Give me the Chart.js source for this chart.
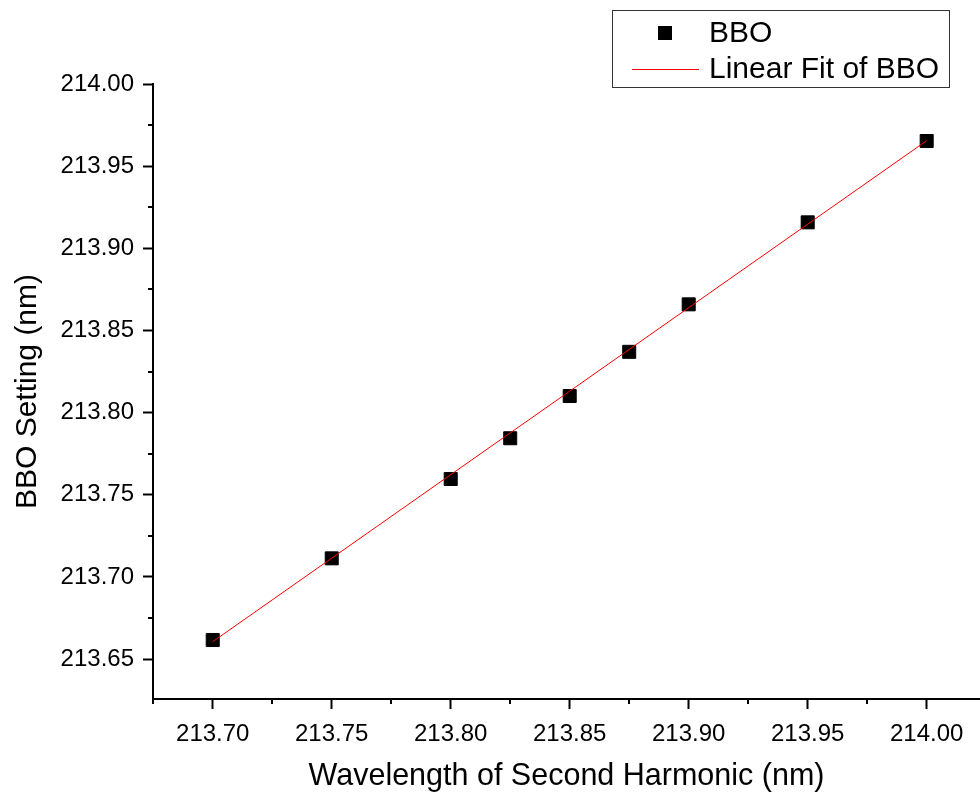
<!DOCTYPE html>
<html>
<head>
<meta charset="utf-8">
<script src="https://cdn.jsdelivr.net/npm/chart.js@4/dist/chart.umd.min.js"></script>
<style>
  html, body { margin: 0; padding: 0; background: #fff; overflow: hidden; }
  #wrap { width: 980px; height: 795px; }
</style>
</head>
<body>
<div id="wrap"><canvas id="c" width="980" height="795"></canvas></div>
<script>
// Measured BBO crystal settings against second-harmonic wavelength
const wavelengths = [213.70, 213.75, 213.80, 213.825, 213.85, 213.875, 213.90, 213.95, 214.00];
const bboSetting  = [213.6616, 213.7113, 213.7596, 213.7844, 213.8101, 213.837, 213.8659, 213.9158, 213.9653];

// End points of the linear fit
const fitWavelengths = [213.70, 214.00];
const fitSetting     = [213.6606, 213.9655];

// Axis ticks
const xTicks = [213.70, 213.75, 213.80, 213.85, 213.90, 213.95, 214.00];
const xMinorTicks = [213.675, 213.725, 213.775, 213.825, 213.875, 213.925, 213.975];
const yTicks = [213.65, 213.70, 213.75, 213.80, 213.85, 213.90, 213.95, 214.00];
const yMinorTicks = [213.675, 213.725, 213.775, 213.825, 213.875, 213.925, 213.975];

const FONT = "'Liberation Sans', Arial, Helvetica, sans-serif";

const toPoints = (xs, ys) => xs.map((x, i) => ({ x: x, y: ys[i] }));

// Short outward minor ticks on both axes
const minorTicks = {
  id: 'minorTicks',
  afterDraw(chart) {
    const { ctx, scales: { x, y }, chartArea } = chart;
    ctx.save();
    ctx.strokeStyle = '#000';
    ctx.lineWidth = 2;
    ctx.beginPath();
    xMinorTicks.forEach(v => {
      const px = Math.round(x.getPixelForValue(v));
      ctx.moveTo(px, chartArea.bottom);
      ctx.lineTo(px, chartArea.bottom + 5);
    });
    yMinorTicks.forEach(v => {
      const py = Math.round(y.getPixelForValue(v));
      ctx.moveTo(chartArea.left, py);
      ctx.lineTo(chartArea.left - 5, py);
    });
    ctx.stroke();
    ctx.restore();
  }
};

// Boxed legend in the upper right corner
const boxLegend = {
  id: 'boxLegend',
  afterDraw(chart) {
    const ctx = chart.ctx;
    const ds = chart.data.datasets;
    const pts = ds.find(d => d.id === 'pts');
    const fit = ds.find(d => d.id === 'fit');
    ctx.save();
    ctx.strokeStyle = '#333';
    ctx.lineWidth = 1;
    ctx.strokeRect(612.5, 10.5, 337, 77);

    ctx.fillStyle = '#000';
    ctx.fillRect(658, 26, 14, 14);

    ctx.strokeStyle = fit.borderColor;
    ctx.lineWidth = 1;
    ctx.beginPath();
    ctx.moveTo(632, 69.5);
    ctx.lineTo(699, 69.5);
    ctx.stroke();

    ctx.fillStyle = '#000';
    ctx.font = '30px ' + FONT;
    ctx.textAlign = 'left';
    ctx.textBaseline = 'middle';
    ctx.fillText(pts.label, 709, 34);
    ctx.fillText(fit.label, 709, 70);
    ctx.restore();
  }
};

Chart.defaults.color = '#000';
Chart.defaults.font.family = FONT;

new Chart(document.getElementById('c'), {
  type: 'scatter',
  data: {
    datasets: [
      {
        id: 'fit',
        label: 'Linear Fit of BBO',
        data: toPoints(fitWavelengths, fitSetting),
        showLine: true,
        borderColor: '#ff0000',
        borderWidth: 1,
        pointRadius: 0,
        order: 0
      },
      {
        id: 'pts',
        label: 'BBO',
        data: toPoints(wavelengths, bboSetting),
        pointStyle: 'rect',
        pointRadius: 9.2,
        pointBackgroundColor: '#000',
        pointBorderColor: '#000',
        pointBorderWidth: 1,
        showLine: false,
        order: 1
      }
    ]
  },
  options: {
    responsive: false,
    animation: false,
    devicePixelRatio: 1,
    layout: { autoPadding: false, padding: { top: 84, right: 0, bottom: 0, left: 0 } },
    plugins: { legend: { display: false }, tooltip: { enabled: false } },
    scales: {
      x: {
        type: 'linear',
        min: 213.6749,
        max: 214.0224,
        afterFit(scale) {
          scale.height = 96;
          scale.paddingLeft = 0;
          scale.paddingRight = 0;
        },
        afterBuildTicks(scale) { scale.ticks = xTicks.map(v => ({ value: v })); },
        border: { display: true, color: '#000', width: 2 },
        grid: { display: true, drawOnChartArea: false, drawTicks: true, tickLength: 10, tickWidth: 2, tickColor: '#000' },
        ticks: {
          padding: 11,
          maxRotation: 0,
          font: { size: 24 },
          callback: v => Number(v).toFixed(2)
        },
        title: {
          display: true,
          text: 'Wavelength of Second Harmonic (nm)',
          font: { size: 30.5 },
          padding: { top: 0, bottom: 0 }
        }
      },
      y: {
        type: 'linear',
        min: 213.6257,
        max: 214.00,
        afterFit(scale) {
          scale.width = 153;
          scale.paddingTop = 0;
          scale.paddingBottom = 0;
        },
        afterBuildTicks(scale) { scale.ticks = yTicks.map(v => ({ value: v })); },
        border: { display: true, color: '#000', width: 2 },
        grid: { display: true, drawOnChartArea: false, drawTicks: true, tickLength: 10, tickWidth: 2, tickColor: '#000' },
        ticks: {
          padding: 9,
          font: { size: 24 },
          callback: v => Number(v).toFixed(2)
        },
        title: {
          display: true,
          text: 'BBO Setting (nm)',
          font: { size: 30 },
          padding: { top: 10, bottom: 0 }
        }
      }
    }
  },
  plugins: [minorTicks, boxLegend]
});
</script>
</body>
</html>
